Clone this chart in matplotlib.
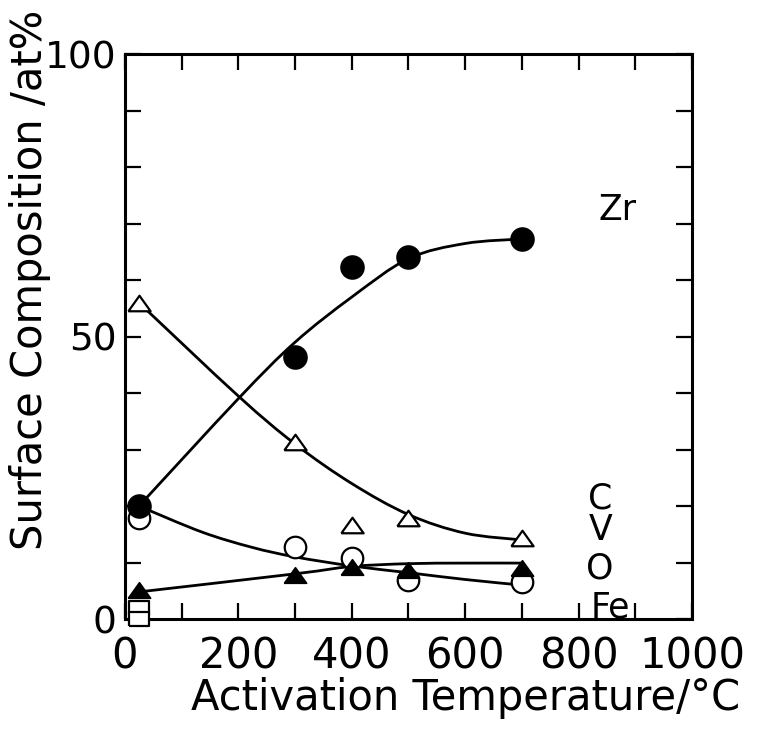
import numpy as np
import matplotlib
matplotlib.use("Agg")
import matplotlib.pyplot as plt
from matplotlib.path import Path
from matplotlib.patches import PathPatch
from matplotlib.ticker import MultipleLocator, FixedLocator

plt.rcParams['font.family'] = ['DejaVu Sans']

# Measured surface composition (at%) vs activation temperature (deg C)
temps = [25, 300, 400, 500, 700]
zr = [20.0, 46.4, 62.3, 64.1, 67.3]
carbon = [56.0, 31.3, 16.6, 17.9, 14.3]
oxygen = [17.9, 12.8, 10.8, 6.9, 6.5]
vanadium = [5.1, 7.8, 9.2, 8.7, 9.0]
fe_temps = [25, 25]
fe = [2.0, 0.0]

# Hand-drawn guide curves (knots along each trend line)
zr_fit_t = [25, 200, 300, 400, 500, 600, 700]
zr_fit = [20.0, 39.0, 49.0, 57.0, 63.8, 66.5, 67.3]
c_fit_t = [25, 200, 300, 400, 500, 600, 700]
c_fit = [56.0, 39.5, 31.0, 24.0, 18.5, 15.2, 14.0]
o_fit_t = [25, 136, 224, 300, 400, 500, 600, 700]
o_fit = [20.0, 15.4, 12.7, 11.0, 9.4, 8.2, 7.0, 6.0]
v_fit_t = [25, 300, 400, 500, 600, 700]
v_fit = [4.8, 8.0, 9.3, 9.8, 9.9, 9.9]

x_ticks = [0, 200, 400, 600, 800, 1000]
y_ticks = [0, 50, 100]

# Element labels placed beside the curve ends
label_names = ["Zr", "C", "V", "O", "Fe"]
label_t = [868, 838, 838, 838, 856]
label_y = [72.4, 21.4, 15.8, 9.0, 2.1]


def smooth_path(xs, ys):
    pts = np.column_stack([xs, ys]).astype(float)
    verts = [pts[0]]
    codes = [Path.MOVETO]
    n = len(pts)
    for i in range(n - 1):
        p0 = pts[i - 1] if i > 0 else pts[i]
        p1 = pts[i]
        p2 = pts[i + 1]
        p3 = pts[i + 2] if i + 2 < n else pts[i + 1]
        c1 = p1 + (p2 - p0) / 6.0
        c2 = p2 - (p3 - p1) / 6.0
        verts += [c1, c2, p2]
        codes += [Path.CURVE4] * 3
    return Path(verts, codes)


tri = [(-1, -0.7), (1, -0.7), (0, 0.7), (-1, -0.7)]
rect = [(-1, -0.65), (1, -0.65), (1, 0.65), (-1, 0.65), (-1, -0.65)]

fig = plt.figure(figsize=(7.75, 7.44), dpi=100)
ax = fig.add_axes([0.161, 0.168, 0.732, 0.759])
ax.set_xlim(0, 1000)
ax.set_ylim(0, 100)

for ft, fv in [(zr_fit_t, zr_fit), (c_fit_t, c_fit), (o_fit_t, o_fit), (v_fit_t, v_fit)]:
    ax.add_patch(PathPatch(smooth_path(ft, fv), fill=False, lw=2.0,
                           edgecolor='black', zorder=2))

ax.plot(fe_temps, fe, linestyle='none', marker=rect, ms=14.5, mfc='white',
        mec='black', mew=1.6, zorder=3, clip_on=False)
ax.plot(temps, oxygen, linestyle='none', marker='o', ms=15.5, mfc='white',
        mec='black', mew=1.6, zorder=3)
ax.plot(temps, carbon, linestyle='none', marker=tri, ms=16, mfc='white',
        mec='black', mew=1.6, zorder=3)
ax.plot(temps, vanadium, linestyle='none', marker=tri, ms=16, mfc='black',
        mec='black', mew=1.2, zorder=4)
ax.plot(temps, zr, linestyle='none', marker='o', ms=16.5, mfc='black',
        mec='black', mew=1.2, zorder=4)

for name, t, v in zip(label_names, label_t, label_y):
    ax.text(t, v, name, fontsize=25, ha='center', va='center', zorder=5)

ax.xaxis.set_major_locator(FixedLocator(x_ticks))
ax.xaxis.set_minor_locator(MultipleLocator(100))
ax.yaxis.set_major_locator(FixedLocator(y_ticks))
ax.yaxis.set_minor_locator(MultipleLocator(10))
ax.set_xticklabels([str(v) for v in x_ticks])
ax.set_yticklabels([str(v) for v in y_ticks])

ax.tick_params(which='both', direction='in', top=True, right=True,
               length=11.5, width=1.6)
ax.tick_params(axis='x', which='major', labelsize=30, pad=12)
ax.tick_params(axis='y', which='major', labelsize=27, pad=6)

for sp in ax.spines.values():
    sp.set_linewidth(2.2)

# Axis titles
fig.text(466 / 775, 1 - 698 / 744, "Activation Temperature/°C", fontsize=30,
         ha='center', va='center')
fig.text(30 / 775, 1 - 280 / 744, "Surface Composition /at%", fontsize=30,
         rotation=90, ha='center', va='center')

fig.savefig("out.png", dpi=100, facecolor='white')
